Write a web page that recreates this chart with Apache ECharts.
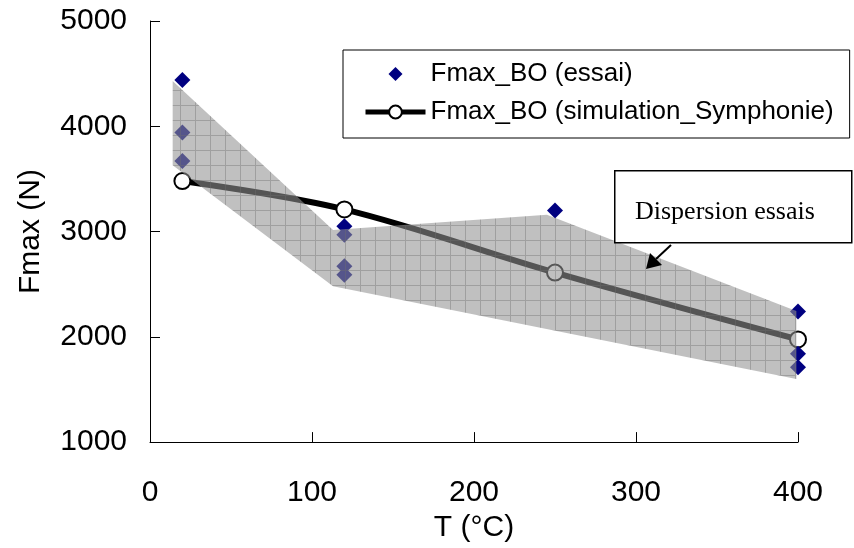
<!DOCTYPE html>
<html>
<head>
<meta charset="utf-8">
<script src="https://cdn.jsdelivr.net/npm/echarts@6/dist/echarts.min.js"></script>
<style>html,body{margin:0;padding:0;background:#fff}#c{width:854px;height:548px}</style>
</head>
<body>
<div id="c"></div>
<script>
// ---- data ----
const essaiT = [20, 20, 20, 120, 120, 120, 120, 250, 400, 400, 400];
const essaiF = [4440, 3940, 3670, 3050, 2970, 2670, 2590, 3200, 2240, 1840, 1710];
const simT = [20, 120, 250, 400];
const simF = [3480, 3210, 2610, 1975];
// dispersion envelope (upper then lower, closed polygon)
const bandT = [14, 113, 245, 399, 399, 113, 14];
const bandF = [4430, 3015, 3160, 2245, 1600, 2480, 3630];
const xTicks = [0, 100, 200, 300, 400];
const yTicks = [1000, 2000, 3000, 4000, 5000];
const seriesNames = ['Fmax_BO (essai)', 'Fmax_BO (simulation_Symphonie)'];
const noteText = 'Dispersion essais';

// hatch pattern for the dispersion area
function makePattern() {
  const s = 15;
  const cv = document.createElement('canvas');
  cv.width = s; cv.height = s;
  const g = cv.getContext('2d');
  g.fillStyle = 'rgba(146,146,146,0.58)';
  g.fillRect(0, 0, s, s);
  g.strokeStyle = 'rgba(110,110,110,0.4)';
  g.lineWidth = 1;
  g.beginPath();
  g.moveTo(0.5, 0); g.lineTo(0.5, s);
  g.moveTo(1, 0.5); g.lineTo(s, 0.5);
  g.stroke();
  return cv;
}

const chart = echarts.init(document.getElementById('c'), null, {renderer: 'canvas'});
const font = 'Liberation Sans, Arial, sans-serif';
const option = {
  animation: false,
  backgroundColor: '#fff',
  grid: {left: 150, right: 56, top: 21, bottom: 103, containLabel: false},
  xAxis: {
    type: 'value', min: xTicks[0], max: xTicks[xTicks.length - 1], interval: 100,
    name: 'T (°C)', nameLocation: 'middle', nameGap: 70,
    nameTextStyle: {color: '#000', fontSize: 30, fontFamily: font},
    axisLine: {lineStyle: {color: '#000', width: 1}},
    axisTick: {inside: true, length: 10, lineStyle: {color: '#000'}},
    axisLabel: {color: '#000', fontSize: 30, fontFamily: font, margin: 36,
      formatter: v => String(v)},
    splitLine: {show: false}
  },
  yAxis: {
    type: 'value', min: yTicks[0], max: yTicks[yTicks.length - 1], interval: 1000,
    name: 'Fmax (N)', nameLocation: 'middle', nameGap: 104, nameRotate: 90,
    nameTextStyle: {color: '#000', fontSize: 30, fontFamily: font},
    axisLine: {lineStyle: {color: '#000', width: 1}},
    axisTick: {inside: true, length: 10, lineStyle: {color: '#000'}},
    axisLabel: {color: '#000', fontSize: 30, fontFamily: font, margin: 23,
      formatter: v => String(v)},
    splitLine: {show: false}
  },
  legend: {
    orient: 'vertical', left: 343, top: 50,
    backgroundColor: '#fff',
    borderColor: '#000', borderWidth: 1, borderRadius: 0,
    padding: [11, 16, 13, 20],
    itemWidth: 60, itemHeight: 16, itemGap: 12,
    textStyle: {color: '#000', fontSize: 26, fontFamily: font},
    data: [
      {name: seriesNames[0], icon: 'path://M0,8M30,1L37,8L30,15L23,8ZM60,8',
       itemStyle: {color: '#000080', opacity: 1}},
      {name: seriesNames[1], lineStyle: {width: 5, color: '#000'},
       itemStyle: {color: '#fff', borderColor: '#000', borderWidth: 2}}
    ]
  },
  series: [
    {
      name: seriesNames[1], type: 'line', z: 2,
      data: simT.map((t, i) => [t, simF[i]]),
      smooth: 0.35,
      symbol: 'circle', symbolSize: 16,
      lineStyle: {color: '#000', width: 6},
      itemStyle: {color: '#fff', borderColor: '#000', borderWidth: 2}
    },
    {
      name: seriesNames[0], type: 'scatter', z: 2,
      data: essaiT.map((t, i) => [t, essaiF[i]]),
      symbol: 'diamond', symbolSize: 16,
      itemStyle: {color: '#000080', opacity: 1}
    },
    {
      name: 'band', type: 'custom', z: 3, silent: true,
      data: [0],
      renderItem: function (params, api) {
        const pts = bandT.map((t, i) => api.coord([t, bandF[i]]));
        return {
          type: 'polygon',
          shape: {points: pts},
          style: {fill: {image: makePattern(), repeat: 'repeat'}, stroke: null}
        };
      }
    }
  ],
  graphic: [
    {
      type: 'rect', left: 614, top: 170, z: 10,
      shape: {width: 237, height: 72},
      style: {fill: '#fff', stroke: '#000', lineWidth: 1.5}
    },
    {
      type: 'text', left: 635, top: 199, z: 11,
      style: {text: noteText, fill: '#000', font: '26px "Liberation Serif", "Times New Roman", serif'}
    },
    {
      type: 'line', z: 11,
      shape: {x1: 671, y1: 245, x2: 656, y2: 259},
      style: {stroke: '#000', lineWidth: 2}
    },
    {
      type: 'polygon', z: 11,
      shape: {points: [[646, 269], [650, 253], [662, 265]]},
      style: {fill: '#000'}
    }
  ]
};
chart.setOption(option);
</script>
</body>
</html>
